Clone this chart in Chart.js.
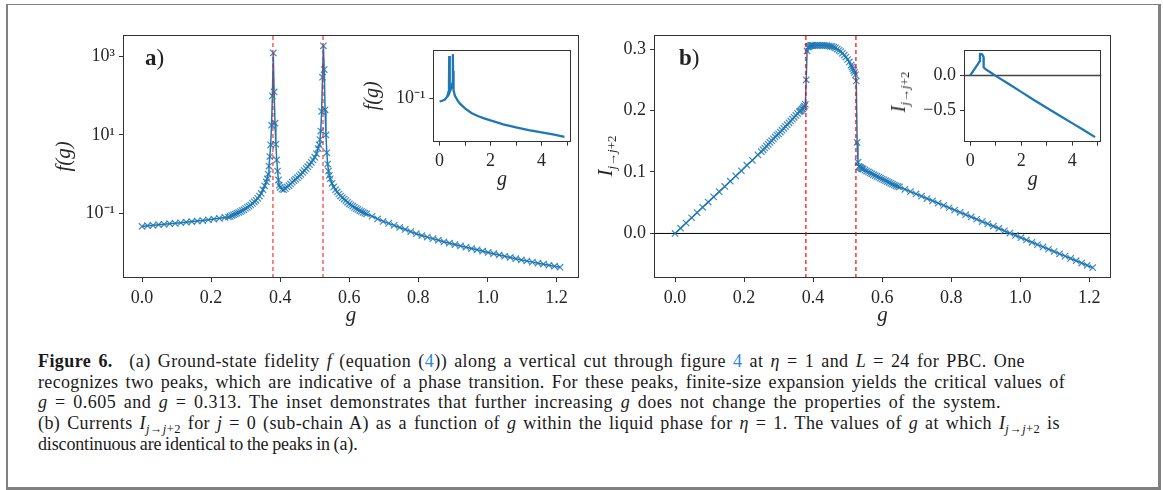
<!DOCTYPE html>
<html><head><meta charset="utf-8">
<script src="https://cdn.jsdelivr.net/npm/chart.js@4.4.0/dist/chart.umd.min.js"></script>
<style>
html,body{margin:0;padding:0;background:#fff;}
body{width:1163px;height:490px;position:relative;overflow:hidden;font-family:"Liberation Serif",serif;color:#222;}
canvas{position:absolute;}
.frame{position:absolute;left:6px;top:4px;width:1155px;height:486px;box-sizing:border-box;border-style:solid;border-color:#808080;border-width:1px 3px 3px 2px;}
.plabel{position:absolute;font-size:23px;color:#222;line-height:1;}
.ylab{position:absolute;transform:translate(-50%,-50%) rotate(-90deg);white-space:nowrap;font-size:21px;color:#262626;line-height:1;}
.ylab sub{font-size:13px;vertical-align:-4px;line-height:0}
.caption{position:absolute;left:38px;top:350.9px;font-size:18px;line-height:20.7px;color:#1a1a1a;}
.caption div{white-space:nowrap;width:max-content;}
.lnk{color:#2b8ad6}
.caption sub{font-size:12.5px;vertical-align:-4px;line-height:0}
</style></head><body>
<div class="frame"></div>
<canvas id="cA" width="560" height="320" style="left:40px;top:20px"></canvas>
<canvas id="cB" width="560" height="320" style="left:580px;top:20px"></canvas>
<canvas id="cAi" width="220" height="160" style="left:360px;top:35px"></canvas>
<canvas id="cBi" width="230" height="160" style="left:880px;top:35px"></canvas>
<div class="plabel" style="left:145px;top:46px"><b>a</b>)</div>
<div class="plabel" style="left:679px;top:46px"><b>b</b>)</div>
<div class="ylab" style="left:605px;top:156px"><i>I</i><sub><i>j</i>→<i>j</i>+2</sub></div>
<div class="ylab" style="left:898px;top:92px;font-size:20px"><i>I</i><sub><i>j</i>→<i>j</i>+2</sub></div>
<div class="caption" id="cap">
<div><b>Figure 6.</b>&ensp; (a) Ground-state fidelity <i>f</i> (equation (<span class="lnk">4</span>)) along a vertical cut through figure <span class="lnk">4</span> at <i>η</i> = 1 and <i>L</i> = 24 for PBC. One</div>
<div>recognizes two peaks, which are indicative of a phase transition. For these peaks, finite-size expansion yields the critical values of</div>
<div><i>g</i> = 0.605 and <i>g</i> = 0.313. The inset demonstrates that further increasing <i>g</i> does not change the properties of the system.</div>
<div>(b) Currents <i>I</i><sub><i>j</i>→<i>j</i>+2</sub> for <i>j</i> = 0 (sub-chain A) as a function of <i>g</i> within the liquid phase for <i>η</i> = 1. The values of <i>g</i> at which <i>I</i><sub><i>j</i>→<i>j</i>+2</sub> is</div>
<div>discontinuous are identical to the peaks in (a).</div>
</div>
<script>
// ---------------- data ----------------
const gValues = [
 0,0.016,0.032,0.048,0.064,0.08,0.096,0.112,0.128,0.144,0.16,0.176,0.192,0.208,0.224,0.24,
 0.25,0.255,0.26,0.265,0.27,0.275,0.28,0.285,0.29,0.295,
 0.3,0.305,0.31,0.315,0.32,0.325,0.33,0.335,0.34,0.345,
 0.35,0.355,0.36,0.3625,0.365,0.3675,0.37,0.3725,0.375,0.3775,
 0.38,0.3825,0.385,0.3875,0.39,0.3925,0.395,0.3975,0.4,0.405,
 0.41,0.415,0.42,0.425,0.43,0.435,0.44,0.445,0.45,0.455,
 0.46,0.465,0.47,0.475,0.48,0.485,0.49,0.495,0.5,0.505,
 0.51,0.5125,0.515,0.5175,0.52,0.5225,0.525,0.5275,0.53,0.5325,
 0.535,0.5375,0.54,0.5425,0.545,0.55,0.555,0.56,0.565,0.57,
 0.575,0.58,0.585,0.59,0.595,0.6,0.605,0.61,0.615,0.62,
 0.625,0.63,0.635,0.64,0.645,0.65,
 0.666,0.682,0.698,0.714,0.73,0.746,0.762,0.778,0.794,0.81,0.826,0.842,0.858,0.874,0.89,0.906,0.922,0.938,
 0.954,0.97,0.986,1.002,1.018,1.034,1.05,1.066,1.082,1.098,1.114,1.13,1.146,1.162,1.178,1.194,1.21
];
const fidelityValues = [
 0.046,0.048,0.049,0.051,0.052,0.054,0.055,0.057,0.059,0.061,0.063,0.065,0.068,0.071,0.074,0.078,
 0.080,0.083,0.087,0.091,0.095,0.100,0.105,0.110,0.117,0.123,
 0.132,0.141,0.151,0.162,0.178,0.195,0.214,0.24,0.275,0.32,
 0.40,0.50,0.63,0.76,1.0,1.6,2.8,5.6,17.8,100,
 1250,126,20,5.8,2.3,1.2,0.71,0.52,0.46,0.41,
 0.40,0.43,0.47,0.51,0.56,0.62,0.68,0.74,0.81,0.89,
 0.98,1.10,1.23,1.38,1.55,1.74,2.0,2.3,2.7,3.3,
 4.5,5.6,7.6,12.6,40,300,1900,470,44,10,
 3.5,1.8,1.2,0.93,0.76,0.58,0.47,0.40,0.35,0.31,
 0.275,0.25,0.23,0.21,0.19,0.174,0.162,0.151,0.141,0.132,
 0.126,0.117,0.111,0.105,0.100,0.096,
 0.0836,0.0714,0.0618,0.055,0.049,0.0432,0.0385,0.0339,0.0299,0.0269,0.0245,0.0224,0.0204,0.0186,0.0171,0.0158,0.0146,0.0135,
 0.0125,0.0116,0.0107,0.00993,0.00923,0.00857,0.00794,0.00741,0.00687,0.00638,0.006,0.00562,0.00528,0.00498,0.00468,0.00442,0.00417
];
const currentValues = [
 0,0.0085,0.017,0.0255,0.034,0.0425,0.051,0.0595,0.068,0.0765,0.085,0.0935,0.102,0.111,0.119,0.128,
 0.133,0.136,0.139,0.142,0.145,0.148,0.151,0.154,0.157,0.160,
 0.162,0.165,0.168,0.171,0.174,0.177,0.180,0.183,0.186,0.189,
 0.192,0.195,0.198,0.199,0.200,0.202,0.203,0.205,0.207,0.210,
 0.250,0.297,0.303,0.304,0.305,0.3055,0.306,0.306,0.306,0.306,
 0.306,0.306,0.306,0.306,0.306,0.3058,0.3055,0.305,0.3045,0.304,
 0.303,0.302,0.300,0.298,0.296,0.293,0.290,0.287,0.283,0.279,
 0.274,0.271,0.268,0.265,0.262,0.258,0.248,0.148,0.116,0.109,
 0.108,0.107,0.106,0.1052,0.1045,0.103,0.1015,0.100,0.0985,0.097,
 0.0956,0.0942,0.0928,0.0914,0.09,0.0886,0.0872,0.0858,0.0844,0.083,
 0.0816,0.0802,0.0788,0.0775,0.0765,0.0756,
 0.0718,0.0681,0.0643,0.0606,0.0568,0.0531,0.0493,0.0456,0.0418,0.0381,0.0343,0.0306,0.0268,0.0231,0.0193,0.0156,0.0118,0.0081,
 0.0043,0.0006,-0.0032,-0.0069,-0.0107,-0.0144,-0.0182,-0.0219,-0.0257,-0.0294,-0.0332,-0.0369,-0.0407,-0.0444,-0.0482,-0.0519,-0.0557
];
const insetFidelityG = [0,0.1,0.2,0.3,0.35,0.37,0.38,0.39,0.41,0.45,0.5,0.52,0.525,0.53,0.55,0.6,0.7,0.8,1.0,1.25,1.5,1.75,2.0,2.5,3.0,3.5,4.0,4.5,4.9];
const insetFidelity = [0.046,0.055,0.068,0.132,0.40,2.8,1250,2.3,0.40,0.81,2.7,40,1900,44,0.58,0.174,0.062,0.0285,0.0099,0.0035,0.0018,0.00107,0.00066,0.00028,0.000138,0.000076,0.000045,0.000027,0.000017];
const insetCurrentG = [0,0.1,0.2,0.3,0.37,0.38,0.385,0.4,0.45,0.5,0.52,0.525,0.53,0.6,0.8,1.0,1.5,2.0,2.5,3.0,3.5,4.0,4.5,4.9];
const insetCurrent = [0,0.053,0.106,0.162,0.203,0.25,0.303,0.306,0.3045,0.283,0.262,0.248,0.116,0.0886,0.0418,-0.0069,-0.12,-0.235,-0.35,-0.46,-0.57,-0.68,-0.79,-0.88];
const criticalG = [0.379, 0.524];

const mainXTicks = [0,0.2,0.4,0.6,0.8,1.0,1.2];
const mainXTickLabels = ['0.0','0.2','0.4','0.6','0.8','1.0','1.2'];
const fidelityYTicks = [0.1,10,1000];
const fidelityYTickLabels = ['10\u207B\u00B9','10\u00B9','10\u00B3'];
const currentYTicks = [0,0.1,0.2,0.3];
const currentYTickLabels = ['0.0','0.1','0.2','0.3'];
const insetXTicks = [0,1,2,3,4,5];
const insetXTickLabels = ['0','','2','','4',''];
const insetFidelityYTicks = [0.1];
const insetFidelityYTickLabels = ['10\u207B\u00B9'];
const insetCurrentYTicks = [-0.5,0];
const insetCurrentYTickLabels = ['\u22120.5','0.0'];

// ---------------- helpers ----------------
const FONT = 'Liberation Serif';
const BLUE = '#1f77b4';
function pts(xs, ys){ return xs.map((x,i)=>({x:x, y:ys[i]})); }
function scaleCfg(o){
  return {
    type: o.type || 'linear',
    position: o.axis === 'x' ? 'bottom' : 'left',
    min: o.min, max: o.max,
    afterBuildTicks: s => { s.ticks = o.ticks.map(v => ({value: v})); },
    afterFit: s => { if (o.axis === 'x') s.height = o.size; else s.width = o.size; },
    ticks: {autoSkip:false, maxRotation:0, minRotation:0, padding: o.axis === 'x' ? 5 : 4,
      color:'#262626', font:{family:FONT, size:18}, callback:(v,i) => o.labels[i]},
    grid: {display:true, drawOnChartArea:false, drawTicks:true, tickLength:4, color:'#333', lineWidth:1},
    border: {display:false},
    title: o.title ? {display:true, text:o.title, color:'#262626',
      font:{family:FONT, size:o.titleSize || 21, style:'italic'}, padding:o.titlePad} : {display:false}
  };
}
const framePlugin = {id:'frame', afterDraw(chart){
  const {ctx, chartArea:a} = chart;
  ctx.save(); ctx.strokeStyle = '#333'; ctx.lineWidth = 1;
  ctx.strokeRect(Math.round(a.left)+0.5, Math.round(a.top)+0.5, Math.round(a.right)-Math.round(a.left)-1, Math.round(a.bottom)-Math.round(a.top)-1);
  ctx.restore();
}};
function lineDs(data, color, width, dash, order){
  return {data:data, showLine:true, borderColor:color, borderWidth:width, borderDash:dash||[], pointRadius:0, pointHoverRadius:0, order:order, tension:0};
}
function markerDs(data, order){
  return {data:data, showLine:true, borderColor:BLUE, backgroundColor:BLUE, borderWidth:1.5, tension:0,
    pointStyle:'crossRot', pointRadius:4.5, pointBorderWidth:1.2, pointBorderColor:'rgba(31,119,180,0.85)', pointHoverRadius:0, order:order};
}
function makeChart(id, datasets, xs, ys, padding){
  return new Chart(document.getElementById(id), {
    type:'scatter',
    data:{datasets:datasets},
    options:{responsive:false, animation:false, devicePixelRatio:1, events:[],
      layout:{padding:padding},
      plugins:{legend:{display:false}, tooltip:{enabled:false}},
      scales:{x:xs, y:ys}},
    plugins:[framePlugin]
  });
}

// ---------------- panel a ----------------
const aYMin = Math.pow(10,-2.656), aYMax = Math.pow(10,3.56);
makeChart('cA', [
  lineDs(pts([criticalG[0],criticalG[0]],[aYMin,aYMax]), 'rgba(255,20,20,0.8)', 1.3, [4,3], 0),
  lineDs(pts([criticalG[1],criticalG[1]],[aYMin,aYMax]), 'rgba(255,20,20,0.8)', 1.3, [4,3], 0),
  markerDs(pts(gValues, fidelityValues), 1)
],
 scaleCfg({axis:'x', min:-0.055, max:1.265, ticks:mainXTicks, labels:mainXTickLabels, size:62, title:'g', titlePad:{top:0,bottom:12}}),
 scaleCfg({axis:'y', type:'logarithmic', min:aYMin, max:aYMax, ticks:fidelityYTicks, labels:fidelityYTickLabels, size:83, title:'f(g)', titlePad:{top:11.4,bottom:0}}),
 {top:14, right:21, left:0, bottom:0});

// ---------------- panel b ----------------
const bYMin = -0.0725, bYMax = 0.3232;
makeChart('cB', [
  lineDs(pts([criticalG[0],criticalG[0]],[bYMin,bYMax]), '#ff0000', 1.2, [4,3], 0),
  lineDs(pts([criticalG[1],criticalG[1]],[bYMin,bYMax]), '#ff0000', 1.2, [4,3], 0),
  markerDs(pts(gValues, currentValues), 1),
  lineDs(pts([-1,2],[0,0]), '#000', 1, [], 2)
],
 scaleCfg({axis:'x', min:-0.061, max:1.263, ticks:mainXTicks, labels:mainXTickLabels, size:62, title:'g', titlePad:{top:0,bottom:12}}),
 scaleCfg({axis:'y', min:bYMin, max:bYMax, ticks:currentYTicks, labels:currentYTickLabels, size:74}),
 {top:14, right:29, left:0, bottom:0});

// ---------------- inset a ----------------
makeChart('cAi', [
  lineDs(pts(insetFidelityG, insetFidelity), BLUE, 2.3, [], 0)
],
 scaleCfg({axis:'x', min:-0.245, max:5.145, ticks:insetXTicks, labels:insetXTickLabels, size:53.3, title:'g', titleSize:20, titlePad:{top:0,bottom:3.5}}),
 scaleCfg({axis:'y', type:'logarithmic', min:Math.pow(10,-5.25), max:Math.pow(10,3.7), ticks:insetFidelityYTicks, labels:insetFidelityYTickLabels, size:73.3, title:'f(g)', titleSize:20, titlePad:{top:1,bottom:0}}),
 {top:8.3, right:9.3, left:0, bottom:0});

// ---------------- inset b ----------------
makeChart('cBi', [
  lineDs(pts(insetCurrentG, insetCurrent), BLUE, 2.3, [], 0),
  lineDs(pts([-1,6],[0,0]), '#444', 1.5, [], 1)
],
 scaleCfg({axis:'x', min:-0.245, max:5.145, ticks:insetXTicks, labels:insetXTickLabels, size:53.3, title:'g', titleSize:20, titlePad:{top:0,bottom:3.5}}),
 scaleCfg({axis:'y', min:-0.945, max:0.365, ticks:insetCurrentYTicks, labels:insetCurrentYTickLabels, size:84}),
 {top:8.3, right:8.7, left:0, bottom:0});

// ---------------- caption line fitting (typesetting only) ----------------
const captionLineWidths = [987, 1027, 963, 1022, 309];
document.querySelectorAll('#cap > div').forEach((d, i) => {
  const target = captionLineWidths[i];
  const text = d.textContent;
  const n = text.length;
  const spaces = (text.match(/ /g) || []).length || 1;
  const w = d.getBoundingClientRect().width;
  const ls = Math.max(-0.15, Math.min(0.6, (target - w) * 0.5 / n));
  d.style.letterSpacing = ls.toFixed(3) + 'px';
  const w2 = d.getBoundingClientRect().width;
  const ws = Math.max(-0.6, (target - w2) / spaces);
  d.style.wordSpacing = ws.toFixed(3) + 'px';
});
</script>
</body></html>
